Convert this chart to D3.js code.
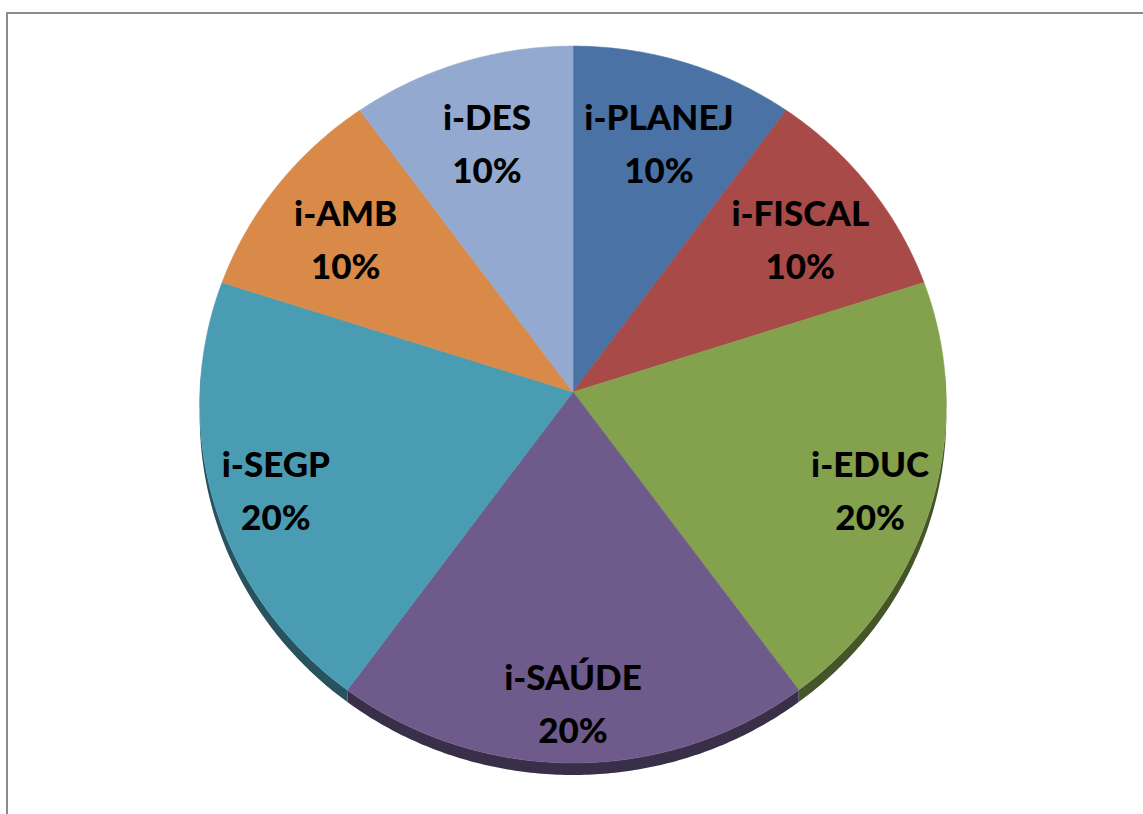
<!DOCTYPE html>
<html>
<head>
<meta charset="utf-8">
<script src="https://cdn.jsdelivr.net/npm/d3@7"></script>
<style>
  html, body { margin: 0; padding: 0; background: #fff; }
  #chart { width: 1143px; height: 814px; }
</style>
</head>
<body>
<div id="chart"></div>
<script>
// data
const categories = ["i-PLANEJ", "i-FISCAL", "i-EDUC", "i-SAÚDE", "i-SEGP", "i-AMB", "i-DES"];
const shares = [10, 10, 20, 20, 20, 10, 10];
const sliceColors = ["#4a72a5", "#a84a48", "#84a14e", "#6e5a8b", "#4a9cb2", "#d98a48", "#94a9cf"];

const width = 1143;
const height = 814;

// tilted disc, slight perspective (Excel 3D pie look)
const cx = 573, cy = 392;
const R = 373, R2 = 358, persp = 0.035;
const depth = 12;

function proj(a, r, h) {
    const u = Math.sin(a) * r / R, v = Math.cos(a) * r / R;
    const w = 1 + persp * v;
    return [cx + R * u / w, cy - R2 * v / w + (h || 0)];
}

const svg = d3.select("#chart")
    .append("svg")
    .attr("width", width)
    .attr("height", height);

// chart area frame
svg.append("rect")
    .attr("x", 7)
    .attr("y", 13)
    .attr("width", width + 20)
    .attr("height", height + 20)
    .attr("fill", "#fff")
    .attr("stroke", "#8c8c8c")
    .attr("stroke-width", 2);

const pie = d3.pie().sort(null).value(d => d.value);
const arcsData = pie(categories.map((c, i) => ({ name: c, value: shares[i], color: sliceColors[i] })));

const line = d3.line().x(p => p[0]).y(p => p[1]);

function arcPoints(a0, a1, h) {
    const n = Math.max(2, Math.ceil((a1 - a0) / 0.01));
    return d3.range(n + 1).map(k => proj(a0 + (a1 - a0) * k / n, R, h));
}

// side walls (only front half shows, faces cover the rest)
const sides = svg.append("g");
arcsData.forEach(d => {
    const lo = Math.max(d.startAngle, Math.PI / 2 - 0.05);
    const hi = Math.min(d.endAngle, 3 * Math.PI / 2 + 0.05);
    if (hi <= lo) return;
    const top = arcPoints(lo, hi, 0);
    const bottom = arcPoints(lo, hi, depth).reverse();
    sides.append("path")
        .attr("d", line(top.concat(bottom)) + "Z")
        .attr("fill", d3.color(d.data.color).darker(1.8));
});

// top faces
const faces = svg.append("g");
arcsData.forEach(d => {
    const pts = [proj(0, 0, 0)].concat(arcPoints(d.startAngle, d.endAngle, 0));
    faces.append("path")
        .attr("d", line(pts) + "Z")
        .attr("fill", d.data.color)
        .attr("stroke", d.data.color)
        .attr("stroke-width", 0.6);
});

// labels
const labels = svg.append("g")
    .attr("font-family", "Lato, 'Open Sans', sans-serif")
    .attr("font-weight", "900")
    .attr("font-size", 35)
    .attr("fill", "#000")
    .attr("text-anchor", "middle");

arcsData.forEach(d => {
    const span = (d.endAngle - d.startAngle) / (2 * Math.PI);
    const mid = (d.startAngle + d.endAngle) / 2;
    const p = proj(mid, R * (0.70 + 0.65 * span), 6);
    labels.append("text")
        .attr("x", p[0])
        .attr("y", p[1] - 26)
        .attr("dy", "0.35em")
        .text(d.data.name);
    labels.append("text")
        .attr("x", p[0])
        .attr("y", p[1] + 27)
        .attr("dy", "0.35em")
        .text(d3.format(".0%")(d.data.value / 100));
});
</script>
</body>
</html>
